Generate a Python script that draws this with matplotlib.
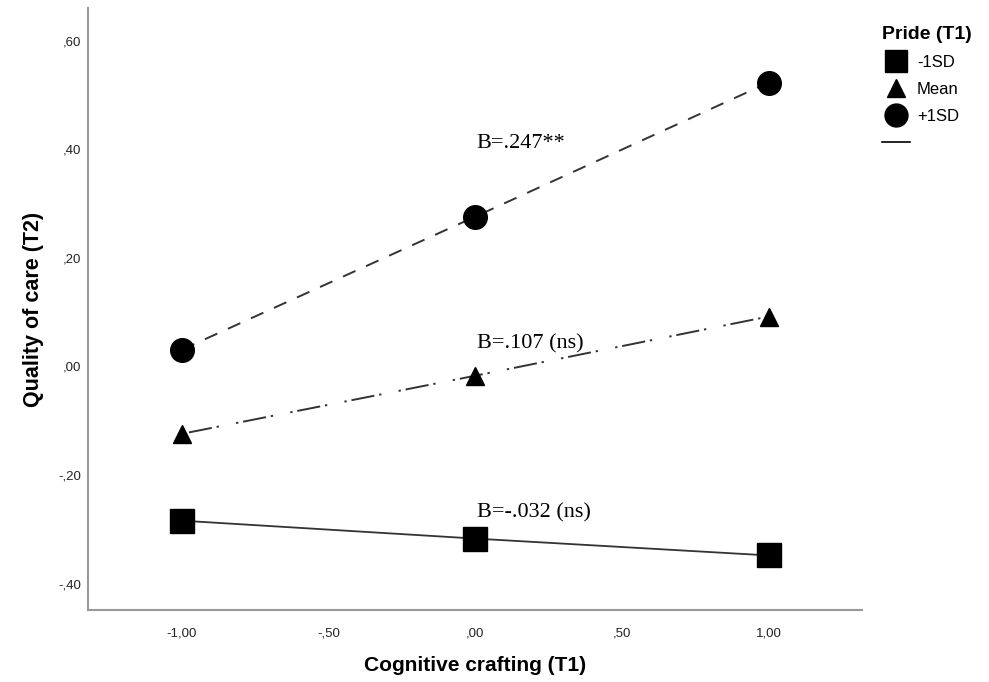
import matplotlib
matplotlib.use('Agg')
import matplotlib.pyplot as plt
from matplotlib.lines import Line2D

x_vals = [-1.0, 0.0, 1.0]
low_sd = [-0.284, -0.317, -0.348]
mean_vals = [-0.124, -0.017, 0.092]
high_sd = [0.031, 0.276, 0.523]

x_ticks = [-1.0, -0.5, 0.0, 0.5, 1.0]
x_ticklabels = ['-1,00', '-,50', ',00', ',50', '1,00']
y_ticks = [-0.4, -0.2, 0.0, 0.2, 0.4, 0.6]
y_ticklabels = ['-,40', '-,20', ',00', ',20', ',40', ',60']

plt.rcParams['font.family'] = ['Liberation Sans', 'DejaVu Sans']

fig = plt.figure(figsize=(9.89, 6.82), dpi=100)
ax = fig.add_axes([0.089, 0.106, 0.783, 0.882])

line_col = '#333333'
ax.plot(x_vals, high_sd, ls=(0, (7, 6)), color=line_col, lw=1.4, zorder=2)
ax.plot(x_vals, mean_vals, ls=(0, (1.2, 2.5, 12, 2.5, 1.2, 9)), color=line_col, lw=1.4, zorder=2)
ax.plot(x_vals, low_sd, ls='-', color=line_col, lw=1.3, zorder=2)
ax.plot(x_vals, high_sd, 'o', color='black', ms=17, ls='none', zorder=3)
ax.plot(x_vals, mean_vals, '^', color='black', ms=13, ls='none', zorder=3)
ax.plot(x_vals, low_sd, 's', color='black', ms=17, ls='none', zorder=3)

serif = ['Liberation Serif', 'DejaVu Serif']
ax.text(0.005, 0.41, 'B=.247**', family=serif, fontsize=16, va='center', ha='left')
ax.text(0.005, 0.041, 'B=.107 (ns)', family=serif, fontsize=16, va='center', ha='left')
ax.text(0.005, -0.27, 'B=-.032 (ns)', family=serif, fontsize=16, va='center', ha='left')

ax.set_xlim(-1.32, 1.32)
ax.set_ylim(-0.448, 0.66)
ax.set_xticks(x_ticks)
ax.set_xticklabels(x_ticklabels)
ax.set_yticks(y_ticks)
ax.set_yticklabels(y_ticklabels)
ax.tick_params(length=0, labelsize=9.5, colors='#222222')
ax.tick_params(axis='x', pad=13)
ax.tick_params(axis='y', pad=5)
ax.spines['top'].set_visible(False)
ax.spines['right'].set_visible(False)
for s in ['left', 'bottom']:
    ax.spines[s].set_color('#999999')
    ax.spines[s].set_linewidth(1.5)

ax.set_xlabel('Cognitive crafting (T1)', fontsize=15, fontweight='bold', labelpad=12)
ax.set_ylabel('Quality of care (T2)', fontsize=15.5, fontweight='bold', labelpad=10)

handles = [
    Line2D([], [], marker='s', color='black', ls='none', ms=16),
    Line2D([], [], marker='^', color='black', ls='none', ms=13),
    Line2D([], [], marker='o', color='black', ls='none', ms=16.5),
    Line2D([], [], color='black', lw=1.2),
]
labels = ['-1SD', 'Mean', '+1SD', '']
leg = fig.legend(handles, labels, loc='upper left', bbox_to_anchor=(0.885, 0.972),
                 frameon=False, title='Pride (T1)', fontsize=12,
                 title_fontproperties={'weight': 'bold', 'size': 14},
                 handlelength=1.7, handletextpad=0.4, labelspacing=0.72,
                 borderaxespad=0, alignment='left')
leg._legend_box.sep = 9

fig.savefig('out.png', dpi=100)
